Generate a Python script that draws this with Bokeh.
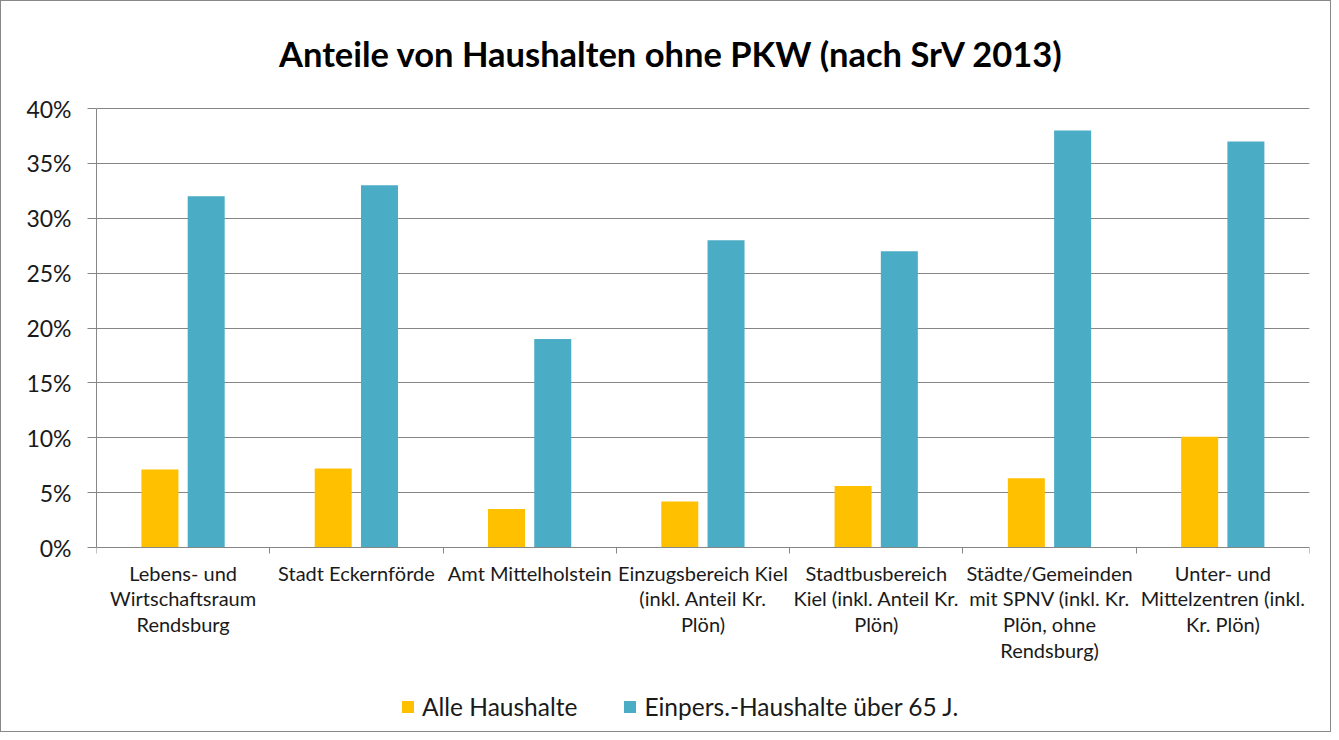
import numpy as np
from bokeh.plotting import figure
from bokeh.models import (ColumnDataSource, FixedTicker, NumeralTickFormatter, Range1d,
                          Legend, LegendItem, Label)
from bokeh.embed import file_html
from bokeh.resources import INLINE

categories = [
    "Lebens- und\nWirtschaftsraum\nRendsburg",
    "Stadt Eckernförde",
    "Amt Mittelholstein",
    "Einzugsbereich Kiel\n(inkl. Anteil Kr.\nPlön)",
    "Stadtbusbereich\nKiel (inkl. Anteil Kr.\nPlön)",
    "Städte/Gemeinden\nmit SPNV (inkl. Kr.\nPlön, ohne\nRendsburg)",
    "Unter- und\nMittelzentren (inkl.\nKr. Plön)",
]
alle_haushalte = [0.071, 0.072, 0.035, 0.042, 0.056, 0.063, 0.101]
einpers_65 = [0.32, 0.33, 0.19, 0.28, 0.27, 0.38, 0.37]
y_ticks = [0.0, 0.05, 0.10, 0.15, 0.20, 0.25, 0.30, 0.35, 0.40]
series_names = ["Alle Haushalte", "Einpers.-Haushalte über 65 J."]
title_text = "Anteile von Haushalten ohne PKW (nach SrV 2013)"

YELLOW = "#FFC000"
BLUE = "#4BACC6"
GRAY = "#868686"
FONT = "Lato"

n = len(categories)
centers = np.arange(n) + 0.5
src = ColumnDataSource(dict(
    x1=centers - 0.134, x2=centers + 0.133,
    a=alle_haushalte, e=einpers_65,
))

Y_MAX = 0.40
PLOT_H = 439            # pixels between 0% and 40%
AXIS_TOP = 107          # pixel row of the 40% line
FIG_H = 732
px = Y_MAX / PLOT_H     # data units per pixel
below_px = FIG_H - 1 - AXIS_TOP - PLOT_H
y_start = -below_px * px
y_end = Y_MAX + (AXIS_TOP - 1) * px

p = figure(width=1331, height=FIG_H, output_backend="svg", toolbar_location=None,
           x_range=Range1d(0, n), y_range=Range1d(y_start, y_end),
           min_border_left=95, min_border_right=23, min_border_top=1,
           min_border_bottom=1,
           outline_line_color=None, styles={"border": "1px solid #888888"})

# chart title, centred on the whole chart area, ~55 px above the 40% line
p.add_layout(Label(x=(670 - 95) / ((1308 - 95) / n), y=Y_MAX + 55 * px,
                   text=title_text, text_align="center", text_baseline="middle",
                   text_font=FONT, text_font_size="34.5px", text_font_style="bold",
                   text_color="black"))

r1 = p.vbar(x="x1", top="a", width=0.2135, source=src, color=YELLOW, line_color=None)
r2 = p.vbar(x="x2", top="e", width=0.2135, source=src, color=BLUE, line_color=None)

# x axis, fixed at 0 inside the frame
xa = p.xaxis[0]
xa.fixed_location = 0
xa.ticker = FixedTicker(ticks=list(centers), minor_ticks=list(range(n + 1)))
xa.major_label_overrides = {float(c): lab for c, lab in zip(centers, categories)}
xa.major_tick_out = 0
xa.major_tick_in = 0
xa.minor_tick_out = 6
xa.minor_tick_in = 0
xa.minor_tick_line_color = GRAY
xa.axis_line_color = GRAY
xa.major_label_text_font = FONT
xa.major_label_text_font_size = "20px"
xa.major_label_text_color = "#1a1a1a"
xa.major_label_text_line_height = 1.08
xa.major_label_standoff = 7
xa.major_label_orientation = "horizontal"

# y axis
ya = p.yaxis[0]
ya.bounds = (0, Y_MAX)
ya.ticker = FixedTicker(ticks=y_ticks)
ya.formatter = NumeralTickFormatter(format="0%")
ya.major_tick_out = 9
ya.major_tick_in = 0
ya.minor_tick_line_color = None
ya.major_tick_line_color = GRAY
ya.axis_line_color = GRAY
ya.major_label_text_font = FONT
ya.major_label_text_font_size = "23px"
ya.major_label_text_color = "#1a1a1a"
ya.major_label_standoff = 16

p.xgrid.grid_line_color = None
p.ygrid.ticker = FixedTicker(ticks=y_ticks)
p.ygrid.grid_line_color = GRAY
p.ygrid.grid_line_width = 1

legend = Legend(items=[LegendItem(label=series_names[0], renderers=[r1]),
                       LegendItem(label=series_names[1], renderers=[r2])],
                orientation="horizontal", location=(304, 11),
                glyph_width=15, glyph_height=15, label_text_font=FONT,
                label_text_font_size="24.5px", label_text_color="#1a1a1a",
                spacing=45, padding=0, margin=0, border_line_color=None,
                background_fill_alpha=0, label_standoff=7)
p.add_layout(legend, "center")

open("out.html", "w").write(file_html(p, INLINE))
